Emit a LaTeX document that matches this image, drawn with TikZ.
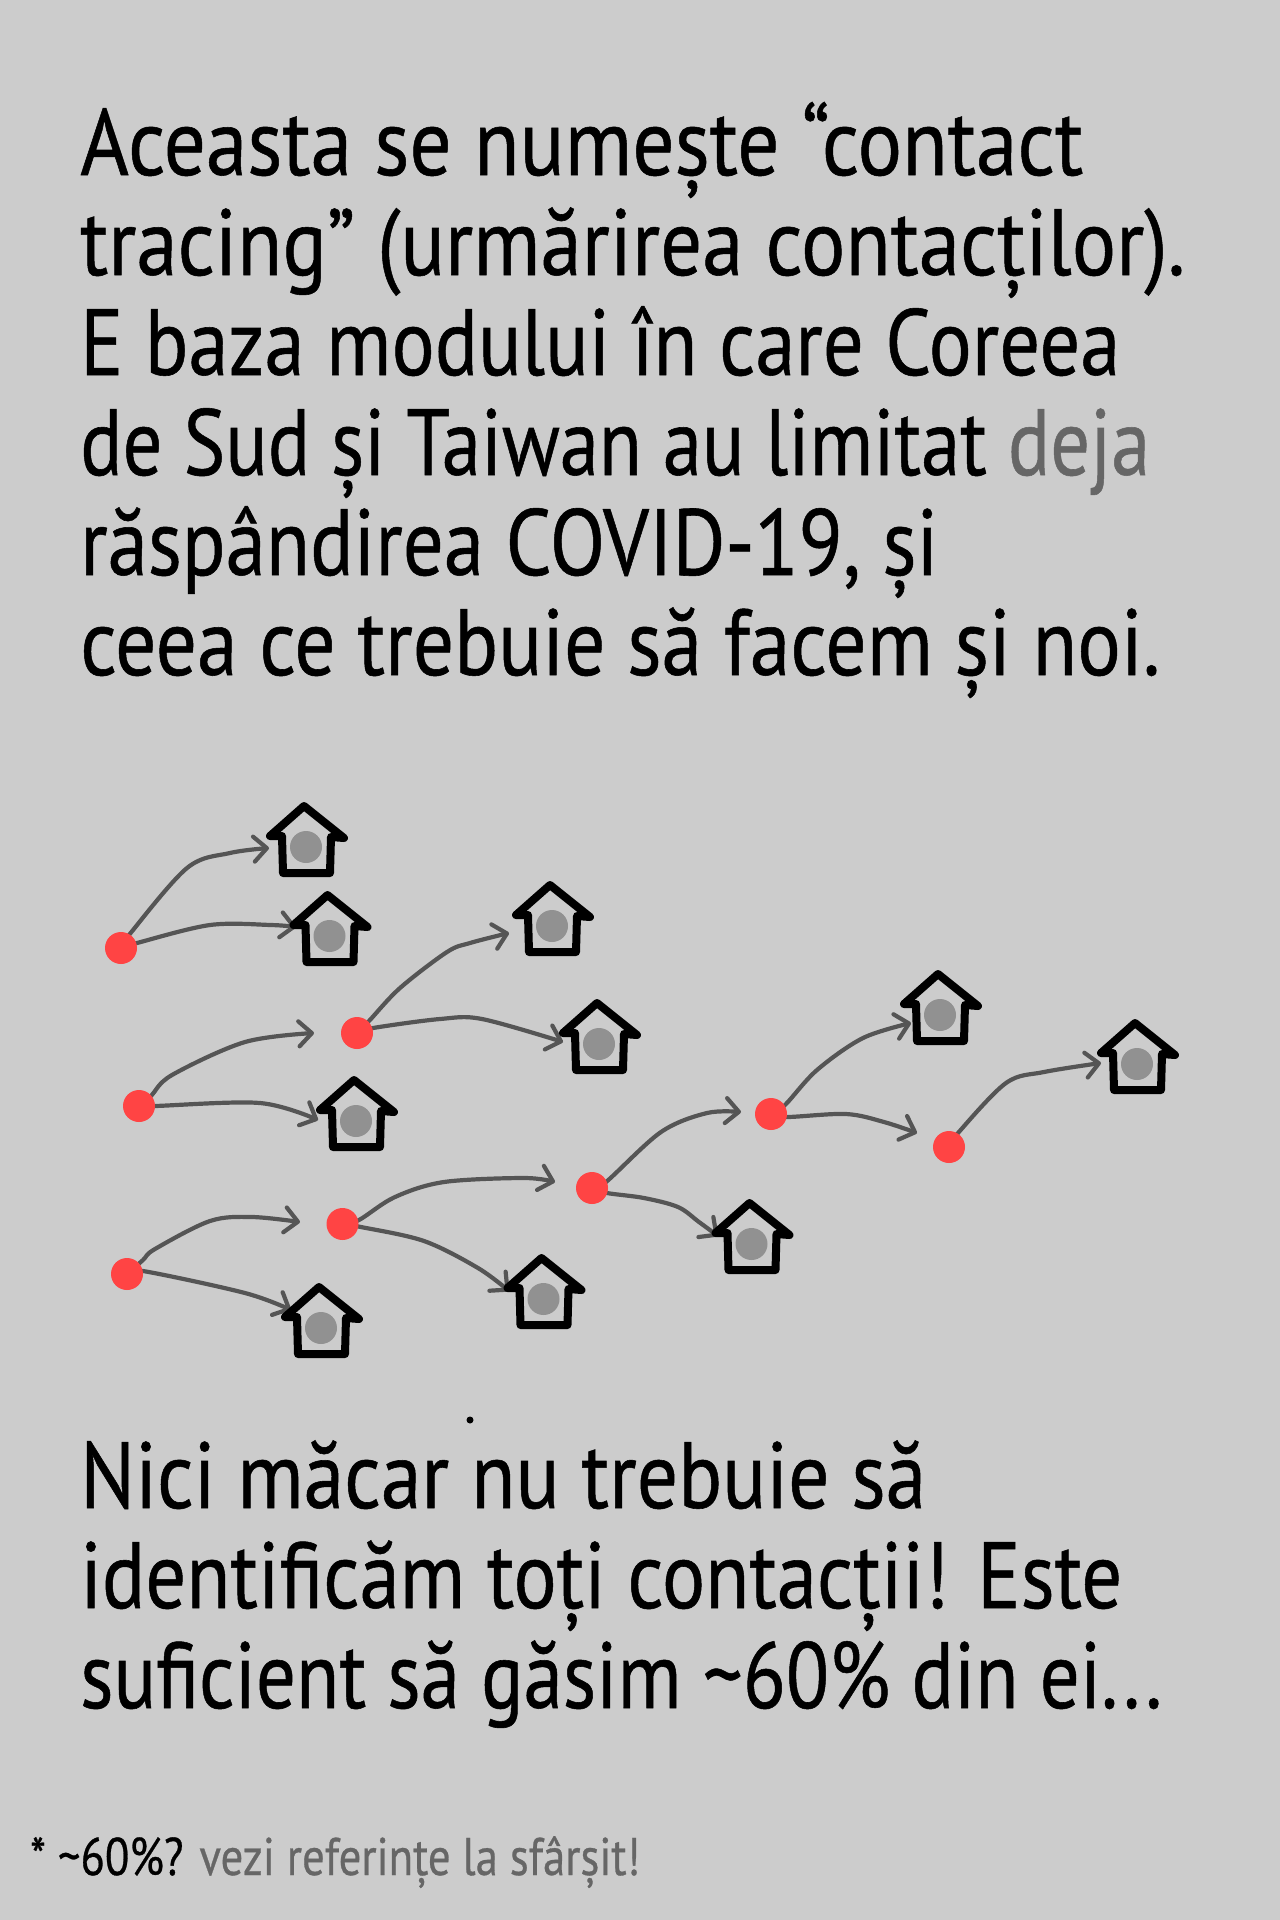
\documentclass[tikz,border=0pt]{standalone}
\usepackage{fontspec}
\usepackage{graphicx}
\setmainfont[FakeBold=0.6]{PT Sans}
\usetikzlibrary{arrows.meta}
\pgfdeclarelayer{back}
\pgfsetlayers{back,main}
\definecolor{bgc}{HTML}{CCCCCC}
\definecolor{dotc}{HTML}{FF4444}
\definecolor{linec}{HTML}{555555}
\definecolor{grayc}{HTML}{919191}
\definecolor{mutec}{HTML}{666666}
\tikzset{
  person/.style={circle,fill=dotc,inner sep=0pt,minimum size=32pt},
  occupant/.style={circle,fill=grayc,inner sep=0pt,minimum size=32pt},
  conn/.style={draw=linec,line width=4.2pt,line cap=round,line join=round,
    -{Straight Barb[length=13pt,width=25pt,round,line width=4.2pt]}},
  walls/.style={draw=black,line width=8pt,line cap=round,line join=round},
  txt/.style={anchor=base west,inner sep=0pt,font=\fontsize{94pt}{100pt}\selectfont},
  note/.style={anchor=base west,inner sep=0pt,font=\fontsize{53pt}{56pt}\selectfont},
}
\newcommand{\fitline}[2]{\resizebox{#1pt}{\height}{#2}}
\newcommand{\hut}[3]{%
  \node[occupant] (#1) at (#2,#3) {};
  \draw[walls] ([shift={(-36,-11)}]#1.center) -- ([shift={(-2,-41)}]#1.center)
    -- ([shift={(38,-9)}]#1.center) -- ([shift={(25,-10)}]#1.center)
    -- ([shift={(24,26)}]#1.center) -- ([shift={(-23,26)}]#1.center)
    -- ([shift={(-24,-11)}]#1.center) -- cycle;
}
\begin{document}
\begin{tikzpicture}[x=1pt,y=-1pt]
\useasboundingbox (0,0) rectangle (1280,1920);
% people
\node[person] (d1) at (121,948) {};
\node[person] (d2) at (357,1033) {};
\node[person] (d3) at (139,1106) {};
\node[person] (d4) at (342.5,1224) {};
\node[person] (d5) at (127,1274) {};
\node[person] (d6) at (592,1188) {};
\node[person] (d7) at (771,1114) {};
\node[person] (d8) at (949,1147) {};
% free ends
\coordinate (t1) at (269,848);
\coordinate (t2) at (296,927);
\coordinate (t3) at (509,933);
\coordinate (t4) at (563,1042);
\coordinate (t5) at (314,1033);
\coordinate (t6) at (318,1120);
\coordinate (t7) at (300,1222);
\coordinate (t8) at (291,1310);
\coordinate (t9) at (555,1182);
\coordinate (t10) at (509,1291);
\coordinate (t11) at (741,1112);
\coordinate (t12) at (718,1236);
\coordinate (t13) at (911,1023);
\coordinate (t14) at (917,1133);
\coordinate (t15) at (1101,1063);
\begin{pgfonlayer}{back}
\fill[bgc] (0,0) rectangle (1280,1920);
\draw[conn] plot[smooth,tension=.55] coordinates {(d1) (129,935) (187,868) (230,853) (t1)};
\draw[conn] plot[smooth,tension=.55] coordinates {(d1) (137,943) (210,925) (271,925) (t2)};
\draw[conn] plot[smooth,tension=.55] coordinates {(d2) (369,1021) (400,988) (447,952) (470,943) (t3)};
\draw[conn] plot[smooth,tension=.55] coordinates {(d2) (373,1028) (440,1019) (482,1019) (t4)};
\draw[conn] plot[smooth,tension=.55] coordinates {(d3) (151,1096) (172,1075) (245,1042) (t5)};
\draw[conn] plot[smooth,tension=.55] coordinates {(d3) (155,1106) (260,1103) (t6)};
\draw[conn] plot[smooth,tension=.55] coordinates {(d5) (143,1260) (155,1249) (210,1221) (252,1217) (t7)};
\draw[conn] plot[smooth,tension=.55] coordinates {(d5) (143,1271) (245,1293) (t8)};
\draw[conn] plot[smooth,tension=.55] coordinates {(d4) (359,1220) (395,1197) (444,1182) (524,1178) (t9)};
\draw[conn] plot[smooth,tension=.55] coordinates {(d4) (361,1227) (424,1241) (478,1268) (t10)};
\draw[conn] plot[smooth,tension=.55] coordinates {(d6) (606,1182) (661,1132) (707,1113) (t11)};
\draw[conn] plot[smooth,tension=.55] coordinates {(d6) (607,1193) (644,1198) (678,1207) (699,1222) (t12)};
\draw[conn] plot[smooth,tension=.55] coordinates {(d7) (785,1105) (817,1070) (863,1038) (t13)};
\draw[conn] plot[smooth,tension=.55] coordinates {(d7) (787,1117) (846,1114) (884,1122) (t14)};
\draw[conn] plot[smooth,tension=.55] coordinates {(d8) (958,1133) (1006,1083) (1044,1072) (t15)};
\end{pgfonlayer}
% houses
\hut{h1}{306}{847}
\hut{h2}{329.5}{936}
\hut{h3}{552}{926}
\hut{h4}{599}{1044}
\hut{h5}{356}{1121}
\hut{h6}{321}{1328}
\hut{h7}{543.5}{1299}
\hut{h8}{751.5}{1244}
\hut{h9}{940}{1015}
\hut{h10}{1137}{1064}
% text
\node[txt] (l1) at (80,175) {\fitline{1003}{Aceasta se numește “contact}};
\node[txt] (l2) at (80,275) {\fitline{1105}{tracing” (urmărirea contacților).}};
\node[txt] (l3) at (80,375) {\fitline{1040}{E baza modului în care Coreea}};
\node[txt] (l4) at (80,475) {\fitline{1070}{de Sud și Taiwan au limitat \textcolor{mutec}{deja}}};
\node[txt] (l5) at (80,575) {\fitline{858}{răspândirea COVID-19, și}};
\node[txt] (l6) at (80,675) {\fitline{1080}{ceea ce trebuie să facem și noi.}};
\node[txt] (l7) at (80,1508) {\fitline{846}{Nici măcar nu trebuie să}};
\node[txt] (l8) at (80,1608) {\fitline{1042}{identificăm toți contacții! Este}};
\node[txt] (l9) at (80,1708) {\fitline{1082}{suficient să găsim \textasciitilde60\% din ei...}};
\node[note] (l10) at (30,1875) {\fitline{610}{* \textasciitilde60\%? \textcolor{mutec}{vezi referințe la sfârșit!}}};
\fill[black] (470,1420) circle (3.5pt);
\end{tikzpicture}
\end{document}
